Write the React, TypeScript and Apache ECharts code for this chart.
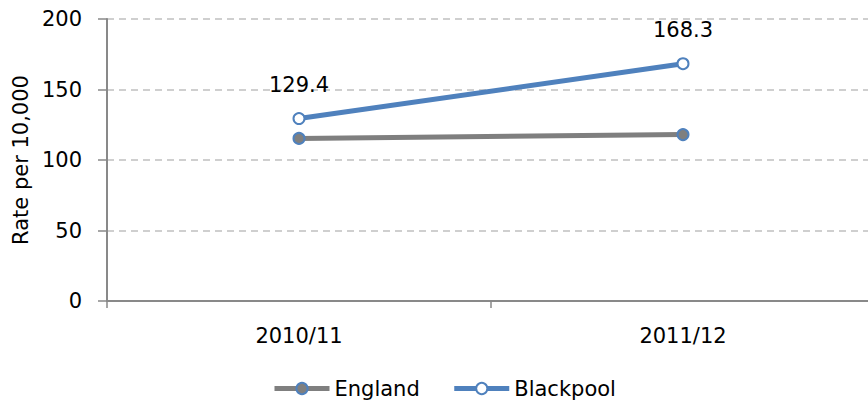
import React, { useEffect, useRef } from "react";
import * as echarts from "echarts";

const categories = ["2010/11", "2011/12"];
const englandValues = [115.3, 118.0];
const blackpoolValues = [129.4, 168.3];
const yTicks = { min: 0, max: 200, interval: 50 };

const FONT = "DejaVu Sans";
const FS = 21;

export default function App() {
  const ref = useRef<HTMLDivElement>(null);
  useEffect(() => {
    if (!ref.current) return;
    const chart = echarts.init(ref.current, undefined, { renderer: "svg" });
    chart.setOption({
      animation: false,
      textStyle: { fontFamily: FONT, color: "#000" },
      grid: {
        left: 107,
        top: 19,
        width: 768,
        height: 282,
        containLabel: false,
        outerBoundsMode: "none",
      },
      legend: {
        left: 272,
        top: 378,
        padding: 0,
        itemWidth: 55,
        itemHeight: 14,
        itemGap: 32,
        lineStyle: { width: 5 },
        textStyle: { fontFamily: FONT, fontSize: FS, color: "#000" },
        data: ["England", "Blackpool"],
      },
      xAxis: {
        type: "category",
        data: categories,
        boundaryGap: true,
        axisLine: { lineStyle: { color: "#898989", width: 2 } },
        axisTick: { show: true, length: 7, lineStyle: { color: "#898989", width: 1.5 } },
        axisLabel: { fontFamily: FONT, fontSize: FS, color: "#000", margin: 24 },
        splitLine: { show: false },
      },
      yAxis: {
        type: "value",
        min: yTicks.min,
        max: yTicks.max,
        interval: yTicks.interval,
        name: "Rate per 10,000",
        nameLocation: "middle",
        nameGap: 75,
        nameRotate: 90,
        nameTextStyle: { fontFamily: FONT, fontSize: FS, color: "#000" },
        axisLine: { show: true, lineStyle: { color: "#898989", width: 2 } },
        axisTick: { show: true, length: 9, lineStyle: { color: "#898989", width: 1.5 } },
        axisLabel: { fontFamily: FONT, fontSize: FS, color: "#000", margin: 25 },
        splitLine: { show: true, lineStyle: { color: "#C0C0C0", width: 1.5, type: [7, 5] } },
      },
      series: [
        {
          name: "England",
          type: "line",
          data: englandValues,
          symbol: "circle",
          symbolSize: 11,
          lineStyle: { color: "#7F7F7F", width: 5 },
          itemStyle: { color: "#7F7F7F", borderColor: "#4F81BD", borderWidth: 2 },
          z: 2,
        },
        {
          name: "Blackpool",
          type: "line",
          data: blackpoolValues,
          symbol: "circle",
          symbolSize: 11,
          lineStyle: { color: "#4F81BD", width: 5 },
          itemStyle: { color: "#FFFFFF", borderColor: "#4F81BD", borderWidth: 2 },
          label: {
            show: true,
            position: "top",
            distance: 17,
            fontFamily: FONT,
            fontSize: FS,
            color: "#000",
            formatter: (p: any) => p.value.toFixed(1),
          },
          z: 3,
        },
      ],
    });
    return () => chart.dispose();
  }, []);
  return <div ref={ref} style={{ width: 868, height: 407, position: "absolute", left: 0, top: 0 }} />;
}
